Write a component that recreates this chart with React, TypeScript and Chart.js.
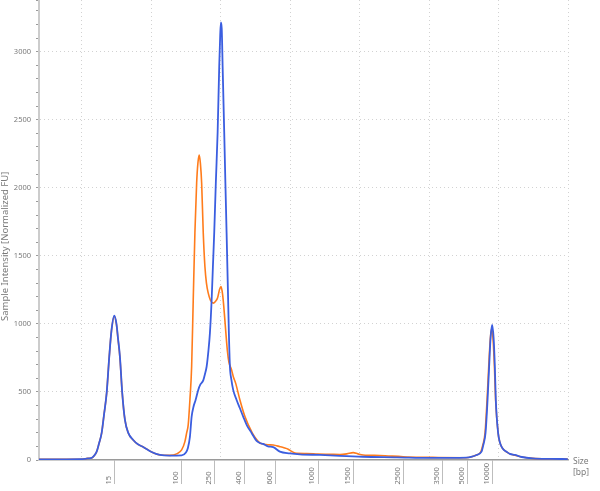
import React, { useEffect, useRef } from "react";
import { Chart, registerables } from "chart.js";

Chart.register(...registerables);

// Migration position (x, arbitrary run units) and normalized intensity (y)
const BLUE_X = [3.86, 6.88, 9.76, 10.47, 10.91, 11.44, 11.77, 12.16, 12.49, 12.88, 13.21, 13.6, 13.97, 14.29, 14.69, 15.01, 15.22, 15.51, 15.84, 16.23, 16.71, 17.42, 18.1, 18.86, 20.07, 21.27, 22.71, 24.39, 25.01, 25.29, 25.58, 25.83, 26.09, 26.4, 26.78, 27.09, 27.5, 27.74, 27.99, 28.24, 28.46, 28.71, 28.89, 29.08, 29.32, 29.57, 29.8, 29.94, 30.04, 30.16, 30.29, 30.52, 30.69, 30.86, 31.05, 31.19, 31.34, 31.55, 31.81, 32.3, 32.78, 33.25, 33.78, 34.46, 35.18, 35.65, 36.13, 36.81, 37.57, 38.53, 39.97, 41.41, 44.29, 47.17, 50.47, 55.37, 60.12, 65.4, 66.16, 66.83, 67.55, 67.81, 68.13, 68.42, 68.65, 68.86, 69.08, 69.29, 69.47, 69.61, 69.94, 70.19, 70.43, 70.76, 71.15, 71.63, 72.35, 73.35, 74.94, 77.38, 79.97];
const BLUE_Y = [5, 5, 6, 8, 12, 15, 30, 61, 120, 199, 330, 493, 758, 950, 1060, 1000, 900, 758, 493, 294, 199, 147, 115, 96, 59, 37, 32, 34, 55, 88, 170, 319, 390, 441, 515, 555, 585, 630, 687, 800, 932, 1177, 1420, 1670, 2050, 2406, 2892, 3120, 3215, 3170, 2892, 2406, 2030, 1670, 1250, 932, 687, 590, 515, 441, 380, 319, 255, 199, 140, 125, 118, 100, 95, 61, 49, 42, 37, 30, 24, 20, 15, 18, 25, 37, 61, 110, 199, 441, 687, 900, 993, 900, 687, 441, 199, 130, 98, 75, 61, 45, 37, 22, 12, 8, 7];

const ORANGE_X = [3.86, 6.88, 9.76, 10.47, 10.91, 11.44, 11.77, 12.16, 12.49, 12.88, 13.21, 13.6, 13.97, 14.29, 14.69, 15.01, 15.22, 15.51, 15.84, 16.23, 16.71, 17.42, 18.1, 18.86, 20.07, 21.27, 22.71, 23.67, 24.39, 24.86, 25.11, 25.34, 25.58, 25.83, 26.06, 26.3, 26.55, 26.73, 26.92, 27.09, 27.27, 27.5, 27.74, 27.96, 28.22, 28.53, 28.94, 29.25, 29.57, 29.83, 30.04, 30.22, 30.37, 30.58, 30.76, 30.98, 31.19, 31.58, 31.84, 32.16, 32.78, 33.5, 34.55, 35.18, 35.65, 36.13, 36.81, 37.57, 38.53, 39.11, 39.73, 40.26, 40.94, 42.37, 44.0, 45.73, 47.17, 48.17, 49.08, 49.76, 50.52, 52.92, 56.27, 59.11, 60.55, 65.29, 66.16, 66.73, 67.45, 67.74, 68.06, 68.35, 68.59, 68.82, 69.01, 69.22, 69.41, 69.58, 69.94, 70.19, 70.47, 70.76, 71.19, 71.63, 72.35, 73.35, 74.94, 77.38, 79.97];
const ORANGE_Y = [5, 5, 6, 8, 12, 15, 30, 61, 120, 199, 330, 493, 758, 950, 1055, 995, 895, 750, 490, 294, 199, 147, 115, 96, 59, 37, 34, 45, 74, 135, 199, 260, 441, 687, 1177, 1670, 2036, 2180, 2240, 2180, 2036, 1670, 1422, 1300, 1226, 1175, 1153, 1165, 1192, 1250, 1275, 1240, 1177, 1050, 932, 800, 720, 662, 610, 565, 441, 319, 199, 150, 125, 118, 112, 110, 98, 90, 79, 62, 49, 48, 44, 42, 40, 45, 54, 45, 37, 33, 24, 20, 19, 17, 24, 35, 60, 110, 199, 441, 687, 890, 968, 880, 687, 441, 199, 130, 95, 75, 58, 45, 35, 22, 12, 8, 7];

// Ladder (size standard) positions and their labels in bp
const LADDER_POS = [14.79, 24.39, 29.18, 33.5, 37.91, 44.04, 49.18, 56.37, 61.94, 65.54, 69.14];
const LADDER_LABELS = ["15", "100", "250", "400", "600", "1000", "1500", "2500", "3500", "5000", "10000"];

const GRID_X = [10, 20, 30, 40, 50, 60, 70, 80];
const X_MIN = 3.86;
const X_MAX = 80;
const Y_MAX = 3380;
const Y_MINOR_STEP = 100;
const Y_MAJOR_STEP = 500;

const Y_TITLE = "Sample Intensity [Normalized FU]";
const X_UNIT_LINES = ["Size", "[bp]"];

const FONT = "'Noto Sans', 'DejaVu Sans', sans-serif";
const LABEL_COLOR = "#7a7a7a";

const padLabel = (s: string) => s + "\u2007".repeat(Math.max(0, 5 - s.length));

const sizeUnitPlugin = {
  id: "sizeUnit",
  afterDraw(chart: any) {
    const { ctx, chartArea } = chart;
    ctx.save();
    ctx.font = `8.5px ${FONT}`;
    ctx.fillStyle = LABEL_COLOR;
    ctx.textBaseline = "middle";
    ctx.textAlign = "left";
    X_UNIT_LINES.forEach((t, i) => {
      ctx.fillText(t, chartArea.right + 5, chartArea.bottom + 2 + i * 11);
    });
    ctx.restore();
  },
};

export default function App() {
  const ref = useRef<HTMLCanvasElement | null>(null);

  useEffect(() => {
    if (!ref.current) return;
    const chart = new Chart(ref.current, {
      type: "line",
      data: {
        datasets: [
          {
            label: "Sample B",
            data: BLUE_X.map((x, i) => ({ x, y: BLUE_Y[i] })),
            borderColor: "#3b5ee0",
            borderWidth: 1.8,
            pointRadius: 0,
            cubicInterpolationMode: "monotone",
            fill: false,
          },
          {
            label: "Sample A",
            data: ORANGE_X.map((x, i) => ({ x, y: ORANGE_Y[i] })),
            borderColor: "#ff7c1c",
            borderWidth: 1.6,
            pointRadius: 0,
            cubicInterpolationMode: "monotone",
            fill: false,
          },
        ],
      },
      options: {
        animation: false,
        responsive: true,
        maintainAspectRatio: false,
        layout: { padding: { top: 0, right: 32, left: 0, bottom: 0 } },
        plugins: { legend: { display: false }, tooltip: { enabled: false } },
        scales: {
          xg: {
            type: "linear",
            position: "top",
            min: X_MIN,
            max: X_MAX,
            afterBuildTicks: (s: any) => {
              s.ticks = GRID_X.map((v) => ({ value: v }));
            },
            afterFit: (s: any) => {
              s.height = 0;
              s.paddingLeft = 0;
              s.paddingRight = 0;
            },
            ticks: { display: false },
            grid: { color: "#d2d2d2", lineWidth: 1, drawTicks: false },
            border: { display: false, dash: [1, 3] },
          },
          x: {
            type: "linear",
            position: "bottom",
            min: X_MIN,
            max: X_MAX,
            afterBuildTicks: (s: any) => {
              s.ticks = LADDER_POS.map((v) => ({ value: v }));
            },
            afterFit: (s: any) => {
              s.height = 31;
              s.paddingLeft = 0;
              s.paddingRight = 0;
            },
            ticks: {
              autoSkip: false,
              minRotation: 90,
              maxRotation: 90,
              padding: -21,
              labelOffset: -6,
              color: LABEL_COLOR,
              font: { family: FONT, size: 7.5 },
              callback: (_v: any, i: number) => padLabel(LADDER_LABELS[i]),
            },
            grid: {
              drawOnChartArea: false,
              drawTicks: true,
              tickLength: 24,
              tickColor: "#bdbdbd",
              tickWidth: 1,
            },
            border: { display: true, color: "#9a9a9a", width: 1.5 },
          },
          y: {
            type: "linear",
            min: 0,
            max: Y_MAX,
            afterFit: (s: any) => {
              s.width = 39;
              s.paddingTop = 0;
              s.paddingBottom = 0;
            },
            ticks: {
              stepSize: Y_MINOR_STEP,
              autoSkip: false,
              padding: 5,
              color: LABEL_COLOR,
              font: { family: FONT, size: 7.5 },
              callback: (v: any) => (Number(v) % Y_MAJOR_STEP === 0 ? String(v) : ""),
            },
            grid: {
              color: (c: any) =>
                c.tick && c.tick.value % Y_MAJOR_STEP === 0 && c.tick.value !== 0
                  ? "#d2d2d2"
                  : "rgba(0,0,0,0)",
              tickColor: "#9a9a9a",
              tickLength: 3,
              tickWidth: 1,
            },
            border: { display: true, color: "#cccccc", width: 2, dash: [1, 3] },
            title: {
              display: true,
              text: Y_TITLE + "\u2007".repeat(6),
              color: LABEL_COLOR,
              font: { family: FONT, size: 9.5 },
              padding: 0,
            },
          },
        },
      },
      plugins: [sizeUnitPlugin],
    } as any);
    return () => chart.destroy();
  }, []);

  return (
    <div style={{ position: "fixed", left: 0, top: 0, width: 600, height: 491, background: "#fff" }}>
      <canvas ref={ref} />
    </div>
  );
}
